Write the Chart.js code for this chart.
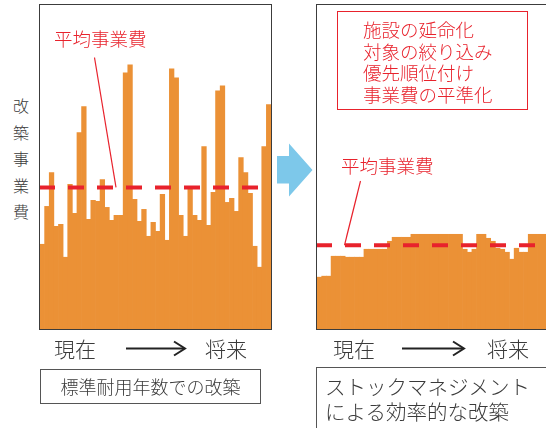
<!DOCTYPE html>
<html>
<head>
<meta charset="utf-8">
<script src="https://cdn.jsdelivr.net/npm/chart.js@4.4.1/dist/chart.umd.min.js"></script>
<style>
  html, body { margin:0; padding:0; width:546px; height:428px; overflow:hidden; background:#fff; }
  body { position:relative; font-family:"Noto Sans CJK JP","Noto Sans",sans-serif; font-weight:300; color:#3a3a3a; }
  .abs { position:absolute; white-space:nowrap; }
  .frameL { position:absolute; left:39px; top:4px; width:233px; height:326px; box-sizing:border-box; border:1px solid #3c3c3c; }
  .frameR { position:absolute; left:316px; top:4px; width:240px; height:326px; box-sizing:border-box; border:1px solid #3c3c3c; border-right:none; }
  .frameL canvas, .frameR canvas { display:block; }
  .red { color:#e8222c; }
</style>
</head>
<body>
<div class="frameL"><canvas id="left" width="231" height="324"></canvas></div>
<div class="frameR"><canvas id="right" width="230" height="324"></canvas></div>

<!-- y-axis label -->
<div class="abs" style="left:8px;top:92px;width:26px;text-align:center;font-size:16px;line-height:26.5px;white-space:normal;">改<br>築<br>事<br>業<br>費</div>

<!-- left avg label -->
<div class="abs red" style="left:54px;top:28px;font-size:18.5px;line-height:20px;">平均事業費</div>
<!-- right avg label -->
<div class="abs red" style="left:341px;top:155px;font-size:18.5px;line-height:20px;">平均事業費</div>

<!-- red box -->
<div class="abs" style="left:337px;top:11px;width:191px;height:99px;box-sizing:border-box;border:1.5px solid #e8222c;"></div>
<div class="abs red" style="left:363px;top:19px;font-size:18.5px;line-height:21.7px;">施設の延命化<br>対象の絞り込み<br>優先順位付け<br>事業費の平準化</div>

<!-- blue arrow and time arrows -->
<svg class="abs" style="left:0;top:0;" width="546" height="428">
  <polygon points="277,156 289,156 289,143.5 312.5,170 289,196.5 289,183.5 277,183.5" fill="#7dc8ea"/>
  <line x1="126" y1="348.5" x2="184" y2="348.5" stroke="#222" stroke-width="2"/>
  <polyline points="174,341.5 185,348.5 174,355.5" fill="none" stroke="#222" stroke-width="2"/>
  <line x1="402" y1="348.5" x2="463" y2="348.5" stroke="#222" stroke-width="2"/>
  <polyline points="453,341.5 464,348.5 453,355.5" fill="none" stroke="#222" stroke-width="2"/>
</svg>

<!-- bottom labels -->
<div class="abs" style="left:54px;top:336px;font-size:21px;line-height:24px;">現在</div>
<div class="abs" style="left:205px;top:336px;font-size:21px;line-height:24px;">将来</div>
<div class="abs" style="left:333px;top:336px;font-size:21px;line-height:24px;">現在</div>
<div class="abs" style="left:487px;top:336px;font-size:21px;line-height:24px;">将来</div>

<!-- left caption box -->
<div class="abs" style="left:40px;top:369px;width:221px;height:35px;box-sizing:border-box;border:1px solid #555;text-align:center;font-size:18px;line-height:33px;">標準耐用年数での改築</div>
<!-- right caption box -->
<div class="abs" style="left:316px;top:367px;width:240px;height:80px;box-sizing:border-box;border:1px solid #555;border-right:none;"></div>
<div class="abs" style="left:325px;top:374px;font-size:20.5px;line-height:25px;">ストックマネジメント<br>による効率的な改築</div>

<script>
// ---- data (arbitrary cost units) ----
const leftValues = [85,123,157,103,105,72,145,116,197,223,
                    110,129,128,150,122,109,114,114,257,265,
                    130,108,120,93,107,98,135,89,261,252,
                    114,93,142,114,109,183,104,137,239,244,
                    127,131,118,172,157,136,83,62,183,225];
const leftAverage = 142;

const rightValues = [52,53,53,
                     73,73,73,72,72,72,72,
                     80,80,80,80,80,
                     88,
                     92,92,92,92,
                     95,95,95,95,95,95,95,95,95,95,95,
                     80,77,80,95,95,
                     91,88,81,80,77,70,81,77,77,
                     95,95,95,95];
const rightAverage = 84;

const yMax = 325;
const barColor = '#eb9136';
const avgColor = '#e8222c';

const avgLinePlugin = {
  id: 'avgLine',
  afterDatasetsDraw(chart, args, opts) {
    const ctx = chart.ctx;
    const area = chart.chartArea;
    const y = chart.scales.y.getPixelForValue(opts.value);
    ctx.save();
    ctx.strokeStyle = avgColor;
    ctx.lineWidth = 1.2;
    ctx.setLineDash([]);
    ctx.beginPath();
    ctx.moveTo(opts.pointerFrom[0], opts.pointerFrom[1]);
    ctx.lineTo(opts.pointerToX, y);
    ctx.stroke();
    ctx.lineWidth = 4;
    ctx.setLineDash([16, 13]);
    ctx.beginPath();
    ctx.moveTo(area.left - 1, y);
    ctx.lineTo(area.right, y);
    ctx.stroke();
    ctx.restore();
  }
};

function makeChart(id, values, avg, pointerFrom, pointerToX) {
  const labels = values.map((_, i) => String(i + 1));
  return new Chart(document.getElementById(id), {
    type: 'bar',
    data: {
      labels,
      datasets: [{
        data: values,
        backgroundColor: barColor,
        borderColor: barColor,
        borderWidth: 0,
        barPercentage: 1,
        categoryPercentage: 1
      }]
    },
    options: {
      responsive: false,
      devicePixelRatio: 1,
      animation: false,
      layout: { padding: 0 },
      scales: {
        x: { display: false },
        y: { display: false, min: 0, max: yMax }
      },
      plugins: {
        legend: { display: false },
        tooltip: { enabled: false },
        avgLine: { value: avg, pointerFrom, pointerToX }
      }
    },
    plugins: [avgLinePlugin]
  });
}

makeChart('left', leftValues, leftAverage, [54.5, 52.5], 76);
makeChart('right', rightValues, rightAverage, [43.5, 176], 27.5);
</script>
</body>
</html>
